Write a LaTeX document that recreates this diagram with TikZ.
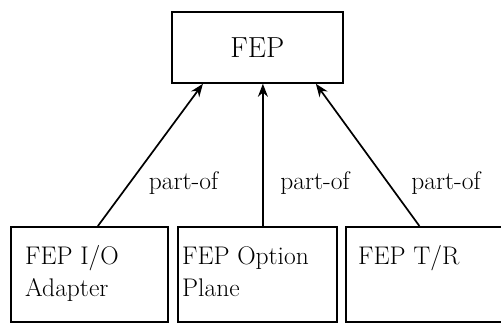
\documentclass[tikz,border=0pt]{standalone}
\usetikzlibrary{arrows.meta}
\begin{document}
\begin{tikzpicture}[x=1pt,y=1pt,
  box/.style={draw,line width=1.8pt,rectangle,inner sep=0pt,anchor=north west},
  txt/.style={inner sep=0pt,anchor=base west,font=\fontsize{25.5}{30}\selectfont},
  lbl/.style={inner sep=0pt,anchor=base,font=\fontsize{25.5}{30}\selectfont},
  partof/.style={line width=1.7pt,-{Stealth[length=13pt,width=10pt]}}]
\useasboundingbox (0,0) rectangle (501,-323);
% top concept
\node[box,minimum width=171,minimum height=71] (fep) at (171,-11) {};
\node[inner sep=0pt,font=\fontsize{29}{34}\selectfont] at (fep.center) {FEP};
% parts (the last one runs past the right edge)
\node[box,minimum width=157,minimum height=95] (io) at (10,-226) {};
\node[box,minimum width=159,minimum height=95] (opt) at (177,-226) {};
\node[box,minimum width=180,minimum height=95] (tr) at (345,-226) {};
\node[txt] at (25,-265) {FEP I/O};
\node[txt] at (25,-297) {Adapter};
\node[txt] at (182,-265) {FEP Option};
\node[txt] at (182,-297) {Plane};
\node[txt] at (358,-265) {FEP T/R};
% part-of links
\draw[partof] ([xshift=8.5]io.north) -- ([xshift=-54.5]fep.south);
\draw[partof] ([xshift=5.5]opt.north) -- ([xshift=5.5]fep.south);
\draw[partof] ([xshift=-16.5]tr.north) -- ([xshift=58.5]fep.south);
\node[lbl] at (183.5,-190) {part-of};
\node[lbl] at (315,-190) {part-of};
\node[lbl] at (446,-190) {part-of};
\end{tikzpicture}
\end{document}
